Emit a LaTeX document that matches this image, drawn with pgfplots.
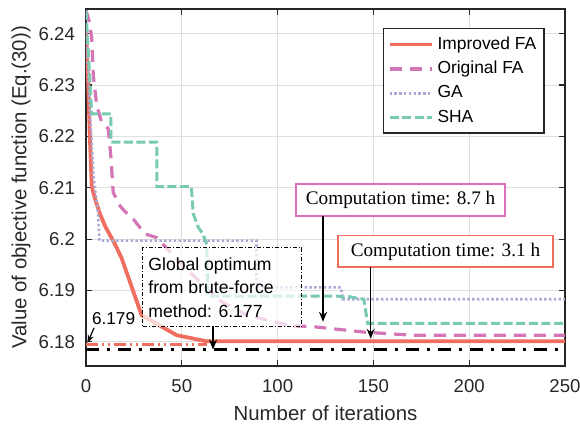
\documentclass[border=0pt]{standalone}
\usepackage{fontspec}
\setmainfont{Liberation Sans}
\newfontfamily\timesfont{Liberation Serif}
\usepackage{pgfplots}
\pgfplotsset{compat=1.18}
\usetikzlibrary{arrows.meta}
\definecolor{impred}{RGB}{240,110,95}
\definecolor{orifa}{RGB}{212,118,182}
\definecolor{gacol}{RGB}{172,168,214}
\definecolor{shacol}{RGB}{120,202,178}
\definecolor{gridgray}{RGB}{223,223,223}
\definecolor{axisgray}{RGB}{38,38,38}
\definecolor{labelgray}{RGB}{40,40,40}
\definecolor{pinkbox}{RGB}{222,110,190}
\definecolor{redbox}{RGB}{240,110,90}
\begin{document}
\begin{tikzpicture}
\begin{axis}[
  width=239.5pt, height=178.5pt, scale only axis,
  xmin=0, xmax=250, ymin=6.1753, ymax=6.2448,
  xtick={0,50,100,150,200,250}, xticklabels={0,50,100,150,200,250},
  ytick={6.18,6.19,6.2,6.21,6.22,6.23,6.24},
  yticklabels={6.18,6.19,6.2,6.21,6.22,6.23,6.24},
  grid=major, grid style={color=gridgray, line width=0.5pt},
  axis line style={color=axisgray, line width=0.7pt},
  tick style={color=axisgray, line width=0.6pt}, major tick length=3pt,
  tick align=inside,
  tick label style={font=\fontsize{9.3}{10}\selectfont, text=labelgray},
  xticklabel style={yshift=-3pt},
  yticklabel style={xshift=-2pt},
  label style={font=\fontsize{10.2}{12}\selectfont, text=labelgray},
  xlabel={Number of iterations},
  ylabel={Value of objective function (Eq.(30))},
  xlabel style={at={(axis description cs:0.5,-0.1317)}, anchor=center},
  ylabel style={at={(axis description cs:-0.1357,0.5)}, anchor=center},
  legend style={at={(axis description cs:0.958,0.947)}, anchor=north east,
    draw=black!85, line width=0.7pt, font=\fontsize{8.7}{10}\selectfont,
    cells={anchor=west}, row sep=0.5pt, inner sep=2pt},
  legend image code/.code={\draw[#1] (0pt,0pt) -- (21pt,0pt);},
]
\addplot[impred, line width=1.9pt] coordinates {
 (0,6.241) (1,6.232) (2,6.220) (3,6.2102) (5,6.2075) (7.3,6.2049)
 (10,6.2025) (15,6.1991) (18.6,6.1963) (29,6.1852) (47.3,6.1813)
 (63,6.1801) (250,6.1801)};
\addlegendentry{Improved FA}
\addplot[orifa, line width=1.6pt, dash pattern=on 6pt off 4pt] coordinates {
 (0,6.2445) (2,6.242) (3,6.239) (3.8,6.2319) (5.6,6.226) (8,6.223)
 (11.6,6.2215) (13,6.216) (14.2,6.2091) (17.7,6.2065) (20,6.2055)
 (24.7,6.2039) (30.8,6.201) (36.9,6.2003) (50,6.1951) (60,6.1915)
 (70,6.188) (84,6.1852) (106,6.1832) (120,6.1829) (145,6.1819)
 (170,6.1813) (250,6.1813)};
\addlegendentry{Original FA}
\addplot[gacol, line width=1.3pt, dash pattern=on 1.2pt off 1.2pt] coordinates {
 (0,6.244) (2,6.225) (4,6.212) (6.3,6.205) (7,6.1997) (89,6.1997)
 (89,6.1906) (133,6.1906) (134,6.1883) (250,6.1883)};
\addlegendentry{GA}
\addplot[shacol, line width=1.5pt, dash pattern=on 4.5pt off 1.8pt] coordinates {
 (0,6.2445) (3,6.2244) (13,6.2244) (13,6.2189) (37,6.2189) (37,6.2102)
 (55,6.2102) (56,6.2049) (58.6,6.2023) (61,6.201) (63,6.199) (63.5,6.1889)
 (132,6.1889) (134,6.1887) (136,6.1889) (140,6.1886) (145,6.1883)
 (147,6.1836) (250,6.1836)};
\addlegendentry{SHA}
\addplot[impred, line width=1.2pt, dash pattern=on 6pt off 2pt on 1pt off 2pt on 1pt off 2pt, forget plot]
 coordinates {(0,6.1795) (63,6.1795)};
\addplot[black, line width=1.6pt, dash pattern=on 6.5pt off 4pt on 1.5pt off 4pt, forget plot]
 coordinates {(0,6.1785) (250,6.1785)};
% annotations
\node[draw=black, dash pattern=on 2pt off 1pt on 0.5pt off 1pt, line width=0.5pt,
  fill=white, fill opacity=0.7, text opacity=1,
  minimum width=79.5pt, minimum height=39.5pt, inner sep=0pt,
  font=\fontsize{8.8}{11.8}\selectfont] at (axis cs:71.2,6.1906)
  {\begin{minipage}{74pt}\raggedright Global optimum\\from brute-force\\method: 6.177\end{minipage}};
\draw[-{Stealth[length=5pt,width=4pt]}, line width=0.7pt] (axis cs:66.3,6.1830) -- (axis cs:66.3,6.1785);
\node[draw=pinkbox, line width=0.8pt, fill=white, minimum width=104.5pt,
  minimum height=16pt, inner sep=0pt, font=\timesfont\fontsize{9.6}{11}\selectfont]
  at (axis cs:164.2,6.2076) {Computation time: 8.7 h};
\draw[-{Stealth[length=5pt,width=4pt]}, line width=0.7pt] (axis cs:123.7,6.2045) -- (axis cs:123.7,6.1839);
\node[draw=redbox, line width=0.8pt, fill=white, minimum width=107.5pt,
  minimum height=15.8pt, inner sep=0pt, font=\timesfont\fontsize{9.6}{11}\selectfont]
  at (axis cs:187.6,6.1976) {Computation time: 3.1 h};
\draw[-{Stealth[length=5pt,width=4pt]}, line width=0.7pt] (axis cs:148.6,6.1945) -- (axis cs:148.6,6.1806);
\node[font=\fontsize{8.6}{10}\selectfont, inner sep=0pt] at (axis cs:14.4,6.1846) {6.179};
\draw[-{Stealth[length=4pt,width=3pt]}, line width=0.6pt] (axis cs:4.2,6.1827) -- (axis cs:0.8,6.1798);
\end{axis}
\pgfresetboundingbox
\path[use as bounding box] (-43pt,-31pt) rectangle (247pt,183pt);
\end{tikzpicture}
\end{document}
